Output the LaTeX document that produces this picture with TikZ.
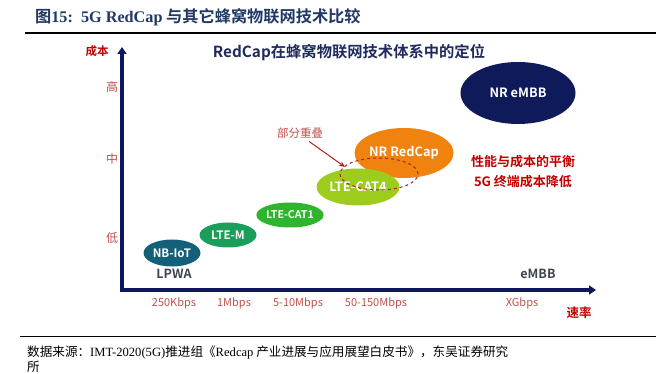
\documentclass[tikz,border=0pt]{standalone}
\usepackage{fontspec}
\usetikzlibrary{shapes.geometric,arrows.meta}
\newfontfamily\cjk{Noto Sans CJK SC}[BoldFont={Noto Sans CJK SC Bold}]
\newfontfamily\tms{Liberation Serif}
\definecolor{navy}{HTML}{0E1660}
\definecolor{embb}{HTML}{0E1A5A}
\definecolor{ttl}{HTML}{1F3864}
\definecolor{ctitle}{HTML}{1F2A5E}
\definecolor{lred}{HTML}{C0504D}
\definecolor{dred}{HTML}{C00000}
\definecolor{brred}{HTML}{B02020}
\definecolor{cnb}{HTML}{146079}
\definecolor{cltem}{HTML}{1B9E5A}
\definecolor{ccat1}{HTML}{2DB52E}
\definecolor{ccat4}{HTML}{9DCC1C}
\definecolor{cred}{HTML}{F0820F}
\definecolor{gtxt}{HTML}{3F4550}
\tikzset{
  blob/.style={ellipse, inner sep=0pt, text=white, font=\cjk\bfseries},
  lbl/.style={inner sep=0pt, font=\cjk},
  axis/.style={line width=4pt, draw=navy, -{Triangle[length=7pt,width=9pt]}},
}
\begin{document}
\begin{tikzpicture}[x=1pt,y=-1pt]
\useasboundingbox (0,0) rectangle (656,374);
% header and footer rules
\coordinate (t1) at (25,33); \coordinate (t2) at (656,33);
\coordinate (b1) at (20,336); \coordinate (b2) at (656,336);
\draw[line width=1.5pt] (t1) -- (t2);
\draw[line width=1pt] (b1) -- (b2);
\node[anchor=west, inner sep=0pt, text=ttl] (title) at (35,17)
  {\cjk\bfseries\fontsize{16.2}{16.2}\selectfont 图{\tms\bfseries 15:\ \ 5G RedCap} 与其它蜂窝物联网技术比较};
\node[anchor=west, inner sep=0pt] (src) at (27,352)
  {\cjk\fontsize{12.6}{12.6}\selectfont 数据来源：{\tms IMT-2020(5G)}推进组《{\tms Redcap} 产业进展与应用展望白皮书》，东吴证券研究};
\node[anchor=west, inner sep=0pt] (src2) at (27,367)
  {\cjk\fontsize{12.6}{12.6}\selectfont 所};
% axes
\coordinate (o) at (122,290);
\coordinate (ytop) at (122,47);
\coordinate (xend) at (596,290);
\draw[axis] (122,292) -- (ytop);
\draw[axis] (120,290) -- (xend);
% chart title
\node[lbl, text=ctitle] (ctitle) at (349,53) {\bfseries\fontsize{15.3}{15.3}\selectfont RedCap在蜂窝物联网技术体系中的定位};
% axis labels
\node[lbl, text=dred] (cost) at (97,51) {\bfseries\fontsize{11.5}{11.5}\selectfont 成本};
\node[lbl, text=dred] (rate) at (579,313) {\bfseries\fontsize{12.5}{12.5}\selectfont 速率};
\node[lbl, text=lred] (hi) at (112,87) {\fontsize{12}{12}\selectfont 高};
\node[lbl, text=lred] (mid) at (112,159) {\fontsize{12}{12}\selectfont 中};
\node[lbl, text=lred] (lo) at (112,238) {\fontsize{12}{12}\selectfont 低};
\node[lbl, text=lred] (x1) at (174,303) {\fontsize{11}{11}\selectfont 250Kbps};
\node[lbl, text=lred] (x2) at (234,303) {\fontsize{11}{11}\selectfont 1Mbps};
\node[lbl, text=lred] (x3) at (298,303) {\fontsize{11}{11}\selectfont 5-10Mbps};
\node[lbl, text=lred] (x4) at (376,303) {\fontsize{11}{11}\selectfont 50-150Mbps};
\node[lbl, text=lred] (x5) at (522,303) {\fontsize{11}{11}\selectfont XGbps};
% ellipses
\node[blob, fill=embb, minimum width=115pt, minimum height=62pt] (embb) at (518,93) {\fontsize{12.8}{12.8}\selectfont NR eMBB};
\node[blob, fill=cred, minimum width=99pt, minimum height=50pt] (redcap) at (404,153) {\fontsize{12.8}{12.8}\selectfont NR RedCap};
\node[blob, fill=ccat4, minimum width=83pt, minimum height=37pt] (cat4) at (358,187) {\fontsize{12.8}{12.8}\selectfont LTE-CAT4};
\node[blob, fill=ccat1, minimum width=61pt, minimum height=25pt] (cat1) at (290,215) {\fontsize{10.6}{10.6}\selectfont LTE-CAT1};
\node[blob, fill=cltem, minimum width=57pt, minimum height=25pt] (ltem) at (228,235) {\fontsize{11.6}{11.6}\selectfont LTE-M};
\node[blob, fill=cnb, minimum width=57pt, minimum height=27pt] (nb) at (172,253) {\fontsize{11.6}{11.6}\selectfont NB-IoT};
% overlap
\node[ellipse, draw=brred, dashed, line width=1pt, minimum width=78pt, minimum height=32pt, inner sep=0pt] (ovl) at (379,174) {};
\node[lbl, text=lred] (part) at (300,133) {\fontsize{11.5}{11.5}\selectfont 部分重叠};
\coordinate (ah) at (345,167);
\draw[brred, line width=1pt, -{Stealth[length=6pt,width=5pt]}] (part.south east) ++(-14,3) -- (ah);
% group labels
\node[lbl, text=gtxt] (lpwa) at (174,274) {\bfseries\fontsize{12.6}{12.6}\selectfont LPWA};
\node[lbl, text=gtxt] (embbl) at (538,274) {\bfseries\fontsize{12.6}{12.6}\selectfont eMBB};
% balance text
\node[lbl, text=dred] (bal1) at (523,162) {\bfseries\fontsize{13}{13}\selectfont 性能与成本的平衡};
\node[lbl, text=dred] (bal2) at (523,182) {\bfseries\fontsize{13}{13}\selectfont 5G 终端成本降低};
\end{tikzpicture}
\end{document}
